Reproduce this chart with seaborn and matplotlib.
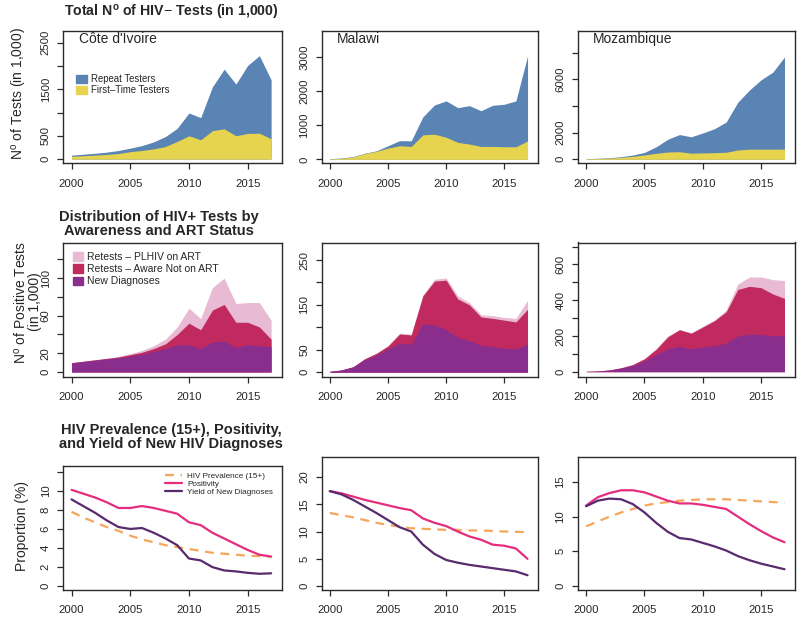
import seaborn as sns
import matplotlib.pyplot as plt
import matplotlib.patches as mpatches
import numpy as np

sns.set_style('ticks')
plt.rcParams['font.family'] = ['Liberation Sans', 'DejaVu Sans']
plt.rcParams['mathtext.fontset'] = 'custom'
plt.rcParams['mathtext.rm'] = 'Liberation Sans'
plt.rcParams['mathtext.bf'] = 'Liberation Sans:bold'

years = list(range(2000, 2018))
countries = ["Côte d'Ivoire", 'Malawi', 'Mozambique']

# row 1: HIV- tests (in 1,000); total = repeat + first-time
ci_tests_total = [85, 105, 125, 150, 185, 235, 290, 370, 485, 660, 990, 890, 1550, 1930, 1610, 2010, 2220, 1700]
ci_tests_first = [60, 72, 85, 100, 120, 160, 185, 220, 270, 380, 500, 415, 610, 650, 500, 550, 555, 435]
mw_tests_total = [20, 40, 80, 180, 250, 400, 550, 545, 1250, 1600, 1720, 1520, 1580, 1430, 1590, 1620, 1720, 3040]
mw_tests_first = [15, 30, 70, 170, 235, 330, 400, 380, 720, 740, 650, 500, 450, 380, 380, 370, 370, 540]
mz_tests_total = [50, 80, 120, 200, 320, 520, 940, 1510, 1860, 1690, 1980, 2300, 2800, 4290, 5210, 5980, 6550, 7690]
mz_tests_first = [40, 60, 90, 150, 220, 330, 450, 550, 570, 460, 480, 500, 530, 700, 760, 760, 760, 770]

# row 2: HIV+ tests (in 1,000), stacked tops: total / new+aware not on ART / new diagnoses
ci_pos_total = [10, 11.5, 13, 14.5, 16.5, 19.5, 23, 28, 35, 48, 68, 57, 90, 100, 73, 74, 74, 55]
ci_pos_aware = [10, 11.5, 13, 14.5, 16, 18.5, 21, 25, 30, 40, 52, 45, 66, 72, 53, 53, 48, 35]
ci_pos_new = [9.5, 11, 12.5, 14, 15, 17, 19, 22, 25, 29, 29, 25, 32, 33, 26, 29, 28, 27]
mw_pos_total = [2, 5, 12, 30, 42, 60, 87, 85, 172, 207, 210, 170, 155, 128, 126, 122, 120, 160]
mw_pos_aware = [2, 5, 12, 30, 42, 58, 85, 83, 170, 203, 205, 163, 150, 123, 120, 116, 112, 140]
mw_pos_new = [2, 5, 12, 28, 38, 52, 65, 62, 108, 105, 95, 78, 70, 60, 57, 53, 52, 62]
mz_pos_total = [2, 4, 10, 22, 40, 75, 130, 200, 235, 218, 255, 290, 345, 490, 530, 530, 515, 510]
mz_pos_aware = [2, 4, 10, 22, 40, 72, 125, 195, 235, 215, 250, 285, 335, 460, 478, 470, 435, 410]
mz_pos_new = [2, 4, 9, 20, 35, 60, 95, 128, 142, 128, 138, 145, 160, 200, 210, 208, 202, 200]

# row 3: proportions (%)
ci_prev = [7.8, 7.2, 6.7, 6.2, 5.8, 5.3, 4.9, 4.6, 4.3, 4.1, 3.9, 3.7, 3.5, 3.4, 3.3, 3.2, 3.15, 3.1]
ci_posit = [10.1, 9.7, 9.3, 8.8, 8.2, 8.2, 8.4, 8.2, 7.9, 7.6, 6.7, 6.4, 5.6, 5.0, 4.4, 3.8, 3.3, 3.1]
ci_yield = [9.1, 8.4, 7.7, 6.9, 6.2, 6.0, 6.1, 5.6, 5.0, 4.3, 2.9, 2.7, 2.0, 1.65, 1.55, 1.4, 1.3, 1.35]
mw_prev = [13.4, 13.0, 12.6, 12.1, 11.6, 11.2, 10.9, 10.6, 10.5, 10.4, 10.3, 10.3, 10.2, 10.2, 10.1, 10.0, 9.95, 9.9]
mw_posit = [17.4, 17.0, 16.4, 15.8, 15.3, 14.8, 14.3, 13.9, 12.4, 11.6, 11.0, 10.0, 9.1, 8.5, 7.6, 7.4, 6.9, 5.0]
mw_yield = [17.4, 16.8, 15.8, 14.6, 13.4, 12.1, 10.8, 10.0, 7.6, 5.9, 4.8, 4.3, 3.9, 3.6, 3.3, 3.0, 2.7, 2.0]
mz_prev = [8.6, 9.3, 10.0, 10.6, 11.1, 11.6, 11.9, 12.1, 12.3, 12.4, 12.5, 12.5, 12.5, 12.4, 12.3, 12.2, 12.1, 12.0]
mz_posit = [11.6, 12.8, 13.4, 13.8, 13.8, 13.5, 12.9, 12.3, 11.9, 11.9, 11.7, 11.4, 11.1, 10.0, 8.9, 7.9, 7.0, 6.3]
mz_yield = [11.5, 12.3, 12.6, 12.5, 11.8, 10.6, 9.1, 7.8, 6.9, 6.7, 6.2, 5.7, 5.1, 4.3, 3.7, 3.2, 2.8, 2.4]

tests = [(ci_tests_total, ci_tests_first), (mw_tests_total, mw_tests_first), (mz_tests_total, mz_tests_first)]
pos = [(ci_pos_total, ci_pos_aware, ci_pos_new), (mw_pos_total, mw_pos_aware, mw_pos_new),
       (mz_pos_total, mz_pos_aware, mz_pos_new)]
props = [(ci_prev, ci_posit, ci_yield), (mw_prev, mw_posit, mw_yield), (mz_prev, mz_posit, mz_yield)]

c_repeat, c_first = '#5a84b4', '#e6d44e'
c_art, c_aware, c_new = '#e8bad3', '#c02a5e', '#8a2e8e'
c_prev, c_posit, c_yield = '#f5a65b', '#e52d7d', '#5a2a6e'

W, H = 800, 620
fig = plt.figure(figsize=(8, 6.2), dpi=100)

def px_axes(l, t, r, b):
    return fig.add_axes([l / W, 1 - b / H, (r - l) / W, (b - t) / H])

cols = [(63.3, 281.7), (321.7, 538), (578, 795)]
rows = [[(30.5, 163.3)] * 3, [(242.5, 376.7)] * 3, [(466, 590), (456.7, 590), (456.7, 590)]]

ylims = [[(-90, 2760), (-116, 3790), (-300, 9680)],
         [(-5, 138), (-10, 289), (-28, 723)],
         [(-0.4, 12.6), (-0.7, 23.7), (-0.6, 18.65)]]
yticks = [[[0, 500, 1000, 1500, 2000, 2500], [0, 1000, 2000, 3000], [0, 2000, 4000, 6000, 8000]],
          [[0, 20, 40, 60, 80, 100, 120], [0, 50, 100, 150, 200, 250], [0, 100, 200, 300, 400, 500, 600, 700]],
          [[0, 2, 4, 6, 8, 10, 12], [0, 5, 10, 15, 20], [0, 5, 10, 15]]]
ylabels_shown = [[[0, 500, 1500, 2500], [0, 1000, 2000, 3000], [0, 2000, 6000]],
                 [[0, 20, 60, 100], [0, 50, 150, 250], [0, 200, 400, 600]],
                 [[0, 2, 4, 6, 8, 10], [0, 5, 10, 15, 20], [0, 5, 10, 15]]]

axes = [[None] * 3 for _ in range(3)]
for r in range(3):
    for c in range(3):
        t, b = rows[r][c]
        l, rr = cols[c]
        ax = px_axes(l, t, rr, b)
        axes[r][c] = ax
        if r == 0:
            total, first = tests[c]
            ax.fill_between(years, 0, total, color=c_repeat, lw=0)
            ax.fill_between(years, 0, first, color=c_first, lw=0)
        elif r == 1:
            total, aware, new = pos[c]
            ax.fill_between(years, 0, total, color=c_art, lw=0)
            ax.fill_between(years, 0, aware, color=c_aware, lw=0)
            ax.fill_between(years, 0, new, color=c_new, lw=0)
        else:
            prev, posit, yld = props[c]
            sns.lineplot(x=years, y=prev, ax=ax, color=c_prev, lw=1.6, label='HIV Prevalence (15+)')
            ax.lines[-1].set_dashes([4, 3])
            sns.lineplot(x=years, y=posit, ax=ax, color=c_posit, lw=1.6, label='Positivity')
            sns.lineplot(x=years, y=yld, ax=ax, color=c_yield, lw=1.6, label='Yield of New Diagnoses')
            if ax.get_legend():
                ax.get_legend().remove()
        ax.set_xlim(1999.3, 2017.9)
        ax.set_ylim(*ylims[r][c])
        ax.set_xticks([2000, 2005, 2010, 2015])
        ax.set_xticklabels(['2000', '2005', '2010', '2015'], fontsize=8.2)
        yt = yticks[r][c]
        ax.set_yticks(yt)
        ax.set_yticklabels([str(v) if v in ylabels_shown[r][c] else '' for v in yt],
                           rotation=90, va='center', fontsize=8.2)
        ax.tick_params(axis='both', direction='out', length=4, width=0.9, color='#2a2a2a')
        ax.tick_params(axis='x', pad=7)
        ax.tick_params(axis='y', pad=5)
        for s in ax.spines.values():
            s.set_color('#2a2a2a')
            s.set_linewidth(1.0)
        ax.set_xlabel('')
        ax.set_ylabel('')
        if r == 0:
            ax.text(0.072 if c == 0 else 0.069, 0.935, countries[c], transform=ax.transAxes,
                    fontsize=10, va='center', ha='left')

# legends
axes[0][0].legend(handles=[mpatches.Patch(color=c_repeat, label='Repeat Testers'),
                           mpatches.Patch(color=c_first, label='First\u2013Time Testers')],
                  loc='upper left', bbox_to_anchor=(0.058, 0.67), frameon=False, fontsize=6.9,
                  borderpad=0, borderaxespad=0, handlelength=1.15, handleheight=0.85,
                  handletextpad=0.4, labelspacing=0.12)
axes[1][0].legend(handles=[mpatches.Patch(color=c_art, label='Retests \u2013 PLHIV on ART'),
                           mpatches.Patch(color=c_aware, label='Retests \u2013 Aware Not on ART'),
                           mpatches.Patch(color=c_new, label='New Diagnoses')],
                  loc='upper left', bbox_to_anchor=(0.043, 0.927), frameon=False, fontsize=7.5,
                  borderpad=0, borderaxespad=0, handlelength=1.0, handleheight=0.9,
                  handletextpad=0.4, labelspacing=0.2)
h, lab = axes[2][0].get_legend_handles_labels()
axes[2][0].legend(h, lab, loc='upper left', bbox_to_anchor=(0.466, 0.952), frameon=False, fontsize=5.9,
                  borderpad=0, borderaxespad=0, handlelength=2.1, handletextpad=0.6, labelspacing=0.05)

# titles and y labels
fig.text(64 / W, 1 - 12 / H, r'Total N$^{\mathbf{o}}$ of HIV$-$ Tests (in 1,000)', fontsize=10.2,
         fontweight='bold', ha='left', va='center')
fig.text(159 / W, 1 - 224 / H, 'Distribution of HIV+ Tests by\nAwareness and ART Status', fontsize=10.5,
         fontweight='bold', ha='center', va='center', multialignment='center', linespacing=1.0)
fig.text(171 / W, 1 - 437 / H, 'HIV Prevalence (15+), Positivity,\nand Yield of New HIV Diagnoses',
         fontsize=10.5, fontweight='bold', ha='center', va='center', multialignment='center', linespacing=1.0)

fig.text(20 / W, 1 - 94 / H, r'N$^{\mathrm{o}}$ of Tests (in 1,000)', fontsize=10, rotation=90,
         ha='center', va='center')
fig.text(27 / W, 1 - 302 / H, 'N$^{\\mathrm{o}}$ of Positive Tests\n(in 1,000)', fontsize=10, rotation=90,
         ha='center', va='center', multialignment='center', linespacing=0.95)
fig.text(22 / W, 1 - 526 / H, 'Proportion (%)', fontsize=10, rotation=90, ha='center', va='center')

fig.savefig('out.png', dpi=100)
